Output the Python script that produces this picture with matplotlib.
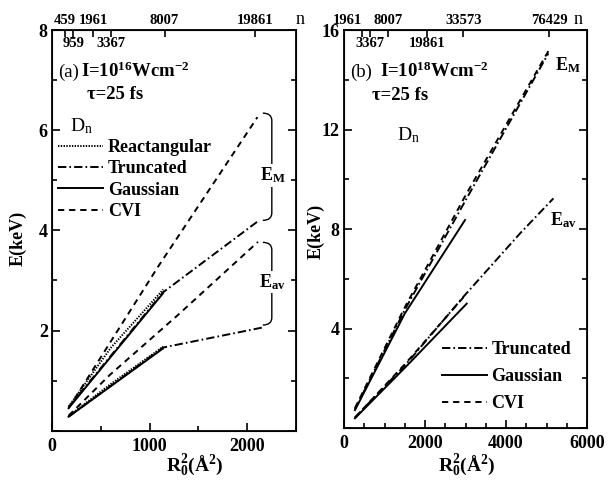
import numpy as np
import matplotlib
matplotlib.use('Agg')
import matplotlib.pyplot as plt
from matplotlib.ticker import MultipleLocator, NullFormatter
from matplotlib.path import Path
from matplotlib.patches import PathPatch
from matplotlib.lines import Line2D

plt.rcParams['font.family'] = ['Liberation Serif', 'DejaVu Serif']
plt.rcParams['mathtext.fontset'] = 'custom'
plt.rcParams['mathtext.rm'] = 'Liberation Serif'
plt.rcParams['mathtext.bf'] = 'Liberation Serif:bold'
plt.rcParams['mathtext.it'] = 'Liberation Serif:italic'
plt.rcParams['mathtext.default'] = 'bf'
plt.rcParams['lines.scale_dashes'] = False

# ---- (a) I=1e16 W/cm2 : E_M (upper group) and E_av (lower group) vs R0^2 ----
a_rect_em_x = [170, 600, 1140]
a_rect_em = [0.48, 1.65, 2.82]
a_rect_av_x = [170, 600, 1140]
a_rect_av = [0.29, 0.93, 1.68]
a_trunc_em_x = [170, 1136, 2122]
a_trunc_em = [0.47, 2.76, 4.20]
a_trunc_av_x = [170, 1136, 2156]
a_trunc_av = [0.28, 1.66, 2.06]
a_gauss_em_x = [170, 1136]
a_gauss_em = [0.45, 2.74]
a_gauss_av_x = [170, 1136]
a_gauss_av = [0.28, 1.64]
a_cvi_em_x = [170, 1085, 2105]
a_cvi_em = [0.45, 3.27, 6.26]
a_cvi_av_x = [170, 590, 1290, 2110]
a_cvi_av = [0.30, 1.11, 2.31, 3.77]
a_n = [459, 959, 1961, 3367, 8007, 19861]
a_n_pos = [133, 217, 421, 609, 1153, 2082]
a_n_above = [True, False, True, False, True, True]

# ---- (b) I=1e18 W/cm2 ----
b_trunc_em_x = [270, 1500, 3000, 5045]
b_trunc_em = [0.75, 4.75, 9.15, 15.06]
b_trunc_av_x = [270, 1550, 2950, 4350, 5170]
b_trunc_av = [0.42, 2.60, 5.28, 7.83, 9.23]
b_gauss_em_x = [270, 1500, 2988]
b_gauss_em = [0.72, 4.60, 8.36]
b_gauss_av_x = [270, 1550, 3030]
b_gauss_av = [0.39, 2.50, 5.00]
b_cvi_em_x = [270, 1500, 3000, 5045]
b_cvi_em = [0.80, 4.85, 9.35, 15.15]
b_cvi_av_x = [270, 1550, 3000]
b_cvi_av = [0.42, 2.65, 5.35]
b_n = [1961, 3367, 8007, 19861, 33573, 76429]
b_n_pos = [437, 642, 1094, 2042, 2946, 5069]
b_n_above = [True, False, True, False, True, True]

LW = 1.4
sty = {
    'Reactangular': dict(color='k', lw=LW, dashes=(1.0, 1.0)),
    'Truncated': dict(color='k', lw=LW, dashes=(6, 2.2, 1.2, 2.2)),
    'Gaussian': dict(color='k', lw=LW, linestyle='-'),
    'CVI': dict(color='k', lw=LW, dashes=(4.5, 3.5)),
}

fig = plt.figure(figsize=(6.12, 4.91), dpi=100)
ax_a = fig.add_axes([0.085, 0.1228, 0.3987, 0.8161])
ax_b = fig.add_axes([0.5621, 0.1283, 0.3971, 0.8106])


def style_axes(ax, xmax, xmaj, xmin_step, ymax, ymaj, ymin_step):
    ax.set_xlim(0, xmax)
    ax.set_ylim(0, ymax)
    ax.xaxis.set_major_locator(MultipleLocator(xmaj))
    ax.xaxis.set_minor_locator(MultipleLocator(xmin_step))
    ax.yaxis.set_major_locator(MultipleLocator(ymaj))
    ax.yaxis.set_minor_locator(MultipleLocator(ymin_step))
    ax.yaxis.set_major_formatter(plt.FuncFormatter(lambda v, p: '' if v == 0 else f'{v:g}'))
    ax.tick_params(which='both', direction='in', left=True, right=True,
                   top=False, bottom=True, width=1.2)
    ax.tick_params(which='major', length=6)
    ax.tick_params(which='minor', length=3.5)
    ax.tick_params(axis='x', labelsize=13, pad=5)
    ax.tick_params(axis='y', labelsize=13, pad=3)
    for lab in ax.get_xticklabels() + ax.get_yticklabels():
        lab.set_fontweight('bold')
    for s in ax.spines.values():
        s.set_linewidth(1.3)


def n_axis(ax, pos, labels, above, n_offset, shifts=None):
    top = ax.twiny()
    top.set_xlim(ax.get_xlim())
    top.set_xticks(pos)
    top.xaxis.set_major_formatter(NullFormatter())
    top.tick_params(direction='in', length=5, width=1.2, top=True)
    shifts = shifts or {}
    for p, n, up in zip(pos, labels, above):
        dy = 4 if up else -12
        ax.annotate(str(n), xy=(p, 1), xycoords=('data', 'axes fraction'),
                    xytext=(shifts.get(n, 0), dy), textcoords='offset points',
                    ha='center', va='baseline', fontsize=10.5, fontweight='bold')
    ax.annotate('n', xy=(1, 1), xycoords='axes fraction', xytext=(n_offset, 4),
                textcoords='offset points', ha='left', va='baseline', fontsize=13)


def brace(ax, x_tip, x_line, y_top, y_bot, dh):
    verts = [(x_tip, y_top), (x_line, y_top), (x_line, y_top - dh),
             (x_line, y_bot + dh),
             (x_line, y_bot), (x_tip, y_bot)]
    codes = [Path.MOVETO, Path.CURVE3, Path.CURVE3, Path.LINETO,
             Path.CURVE3, Path.CURVE3]
    ax.add_patch(PathPatch(Path(verts, codes), fill=False, lw=1.0, color='k'))


# ---------------- panel (a) ----------------
ax = ax_a
style_axes(ax, 2500, 1000, 500, 8, 2, 1)

ax.plot(a_rect_em_x, a_rect_em, **sty['Reactangular'])
ax.plot(a_rect_av_x, a_rect_av, **sty['Reactangular'])
ax.plot(a_trunc_em_x, a_trunc_em, **sty['Truncated'])
ax.plot(a_trunc_av_x, a_trunc_av, **sty['Truncated'])
ax.plot(a_gauss_em_x, a_gauss_em, **sty['Gaussian'])
ax.plot(a_gauss_av_x, a_gauss_av, **sty['Gaussian'])
ax.plot(a_cvi_em_x, a_cvi_em, **sty['CVI'])
ax.plot(a_cvi_av_x, a_cvi_av, **sty['CVI'])

brace(ax, 2160, 2252, 6.34, 4.20, 0.15)
brace(ax, 2160, 2252, 3.76, 2.11, 0.15)
ax.text(2258, 5.1, '$E_M$', ha='center', va='center', fontsize=13,
        bbox=dict(facecolor='white', edgecolor='none', pad=1))
ax.text(2262, 2.97, '$E_{av}$', ha='center', va='center', fontsize=13,
        bbox=dict(facecolor='white', edgecolor='none', pad=1))

ax.text(0.0246, 0.8835, '(a)', transform=ax.transAxes, fontsize=13.5, va='baseline')
ax.text(0.118, 0.8835, 'I=10$^{16}$Wcm$^{-2}$', transform=ax.transAxes,
        fontsize=13.5, fontweight='bold', va='baseline')
ax.text(0.145, 0.828, 'τ=25 fs', transform=ax.transAxes, fontsize=13.5,
        fontweight='bold', va='baseline')
ax.text(0.0738, 0.746, 'D$_\\mathrm{n}$', transform=ax.transAxes, fontsize=14,
        va='baseline')

names_a = ['Reactangular', 'Truncated', 'Gaussian', 'CVI']
handles_a = [Line2D([], [], **sty[k]) for k in names_a]
ax.legend(handles_a, names_a, loc='upper left', bbox_to_anchor=(0.0246, 0.728),
          frameon=False, handlelength=2.5, handletextpad=0.25, labelspacing=0.24,
          borderpad=0, borderaxespad=0, prop=dict(weight='bold', size=13))

ax.set_xlabel('R$_0^2$(Å$^2$)', fontsize=14, fontweight='bold')
ax.xaxis.set_label_coords(0.586, -0.053)
ax.set_ylabel('E(keV)', fontsize=13, fontweight='bold')
ax.yaxis.set_label_coords(-0.102, 0.48)
n_axis(ax, a_n_pos, a_n, a_n_above, 0)

# ---------------- panel (b) ----------------
ax = ax_b
style_axes(ax, 6000, 2000, 500, 16, 4, 2)

ax.plot(b_trunc_em_x, b_trunc_em, **sty['Truncated'])
ax.plot(b_trunc_av_x, b_trunc_av, **sty['Truncated'])
ax.plot(b_gauss_em_x, b_gauss_em, **sty['Gaussian'])
ax.plot(b_gauss_av_x, b_gauss_av, **sty['Gaussian'])
ax.plot(b_cvi_em_x, b_cvi_em, **sty['CVI'])
ax.plot(b_cvi_av_x, b_cvi_av, **sty['CVI'])

ax.text(5210, 14.39, '$E_M$', ha='left', va='baseline', fontsize=13)
ax.text(5086, 8.16, '$E_{av}$', ha='left', va='baseline', fontsize=13)

ax.text(0.0247, 0.8827, '(b)', transform=ax.transAxes, fontsize=13.5, va='baseline')
ax.text(0.148, 0.8827, 'I=10$^{18}$Wcm$^{-2}$', transform=ax.transAxes,
        fontsize=13.5, fontweight='bold', va='baseline')
ax.text(0.114, 0.824, 'τ=25 fs', transform=ax.transAxes, fontsize=13.5,
        fontweight='bold', va='baseline')
ax.text(0.217, 0.7236, 'D$_\\mathrm{n}$', transform=ax.transAxes, fontsize=14,
        va='baseline')

names_b = ['Truncated', 'Gaussian', 'CVI']
handles_b = [Line2D([], [], **sty[k]) for k in names_b]
ax.legend(handles_b, names_b, loc='upper left', bbox_to_anchor=(0.402, 0.2186),
          frameon=False, handlelength=2.5, handletextpad=0.25, labelspacing=0.55,
          borderpad=0, borderaxespad=0, prop=dict(weight='bold', size=13))

ax.set_xlabel('R$_0^2$(Å$^2$)', fontsize=14, fontweight='bold')
ax.xaxis.set_label_coords(0.506, -0.06)
ax.set_ylabel('E(keV)', fontsize=13, fontweight='bold')
ax.yaxis.set_label_coords(-0.078, 0.495)
n_axis(ax, b_n_pos, b_n, b_n_above, -10, shifts={1961: -10})

fig.savefig('out.png', dpi=100)
